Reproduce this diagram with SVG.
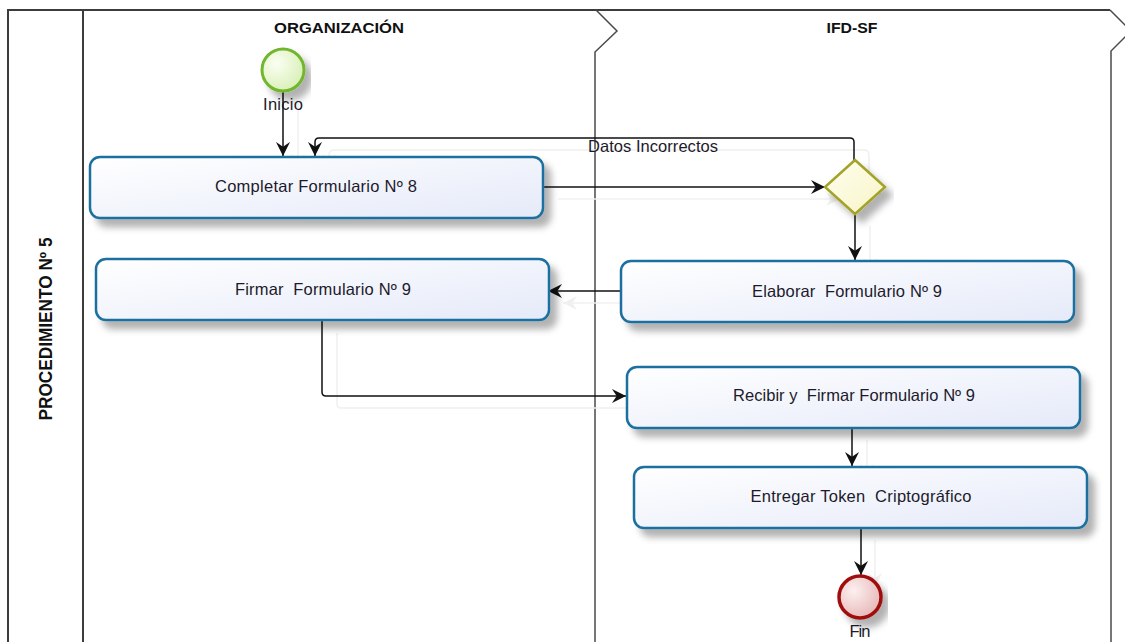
<svg xmlns="http://www.w3.org/2000/svg" width="1125" height="642" viewBox="0 0 1125 642">
  <style>
    .pool { fill: none; stroke: #3c3c3c; stroke-width: 2; }
    .lane { fill: none; stroke: #4a4a4a; stroke-width: 1.5; }
    .hdr { font-family: "Liberation Sans", Arial, sans-serif; font-weight: bold; font-size: 15px; fill: #111; text-anchor: middle; }
    .lbl { font-family: "Liberation Sans", Arial, sans-serif; font-size: 16.5px; fill: #1d1a2c; text-anchor: middle; white-space: pre; }
    .task { fill: url(#taskFill); stroke: #1f6f9f; stroke-width: 2.5; filter: url(#shadow); }
    .flow { fill: none; stroke: #111; stroke-width: 1.5; marker-end: url(#arrow); }
    .ghost { fill: none; stroke: #f0f0f0; stroke-width: 1.5; marker-end: url(#ghostArrow); }
  </style>
  <defs>
    <linearGradient id="taskFill" x1="0" y1="0" x2="1" y2="1">
      <stop offset="0" stop-color="#ffffff"/>
      <stop offset="1" stop-color="#e5eaf9"/>
    </linearGradient>
    <radialGradient id="startFill" cx="0.35" cy="0.35" r="0.75">
      <stop offset="0" stop-color="#fbfef3"/>
      <stop offset="1" stop-color="#d6efb2"/>
    </radialGradient>
    <radialGradient id="endFill" cx="0.35" cy="0.35" r="0.75">
      <stop offset="0" stop-color="#fdf0f0"/>
      <stop offset="1" stop-color="#e6b4b4"/>
    </radialGradient>
    <linearGradient id="gateFill" x1="0" y1="0" x2="1" y2="1">
      <stop offset="0" stop-color="#fffff0"/>
      <stop offset="1" stop-color="#f7f4c6"/>
    </linearGradient>
    <filter id="shadow" x="-10%" y="-20%" width="125%" height="160%">
      <feDropShadow dx="7" dy="8" stdDeviation="3.5" flood-color="#000" flood-opacity="0.3"/>
    </filter>
    <marker id="arrow" viewBox="0 0 12 12" refX="12" refY="6" markerWidth="14" markerHeight="14" markerUnits="userSpaceOnUse" orient="auto">
      <path d="M0,0 L12,6 L0,12 L4,6 z" fill="#111"/>
    </marker>
    <marker id="ghostArrow" viewBox="0 0 12 12" refX="12" refY="6" markerWidth="14" markerHeight="14" markerUnits="userSpaceOnUse" orient="auto">
      <path d="M0,0 L12,6 L0,12 L4,6 z" fill="#f0f0f0"/>
    </marker>
  </defs>

  <rect width="1125" height="642" fill="#ffffff"/>

  <!-- Pool and lanes -->
  <g id="pool">
    <path class="pool" d="M8,642 V10 H1110"/>
    <path class="pool" d="M83,10 V642"/>
    <path class="lane" d="M596,10 L617,31 L595,52 V642"/>
    <path class="lane" d="M1110,10 L1131,31 L1111,51 V642"/>
    <text class="hdr" x="339" y="33" textLength="130" lengthAdjust="spacingAndGlyphs">ORGANIZACIÓN</text>
    <text class="hdr" x="852" y="33" textLength="51" lengthAdjust="spacingAndGlyphs">IFD-SF</text>
    <text class="hdr" transform="translate(52,329) rotate(-90)" x="0" y="0" style="font-size:18px" textLength="183" lengthAdjust="spacingAndGlyphs">PROCEDIMIENTO Nº 5</text>
  </g>

  <!-- Faint connector shadows -->
  <g id="connector-shadows">
    <path class="ghost" d="M298,100 V168"/>
    <path class="ghost" d="M869,172 V155 Q869,150 864,150 H334 Q329,150 329,155 V168"/>
    <path class="ghost" d="M558,199 H840"/>
    <path class="ghost" d="M870,226 V272"/>
    <path class="ghost" d="M636,303 H563"/>
    <path class="ghost" d="M337,333 V404 Q337,408 341,408 H641"/>
    <path class="ghost" d="M867,440 V478"/>
    <path class="ghost" d="M875,540 V587"/>
  </g>

  <!-- Sequence flows -->
  <g id="connectors">
    <path class="flow" d="M283,91 V156"/>
    <path class="flow" d="M854,160 V142 Q854,138 850,138 H319 Q315,138 315,142 V156"/>
    <path class="flow" d="M543,187 H825"/>
    <path class="flow" d="M855,214 V260"/>
    <path class="flow" d="M621,291 H548"/>
    <path class="flow" d="M322,321 V392 Q322,396 326,396 H626"/>
    <path class="flow" d="M852,429 V466"/>
    <path class="flow" d="M861,529 V575"/>
    <text class="lbl" x="653" y="152" textLength="130">Datos Incorrectos</text>
  </g>

  <!-- Events -->
  <g id="inicio">
    <circle cx="283" cy="70" r="21" fill="url(#startFill)" stroke="#72b52f" stroke-width="3" filter="url(#shadow)"/>
    <text class="lbl" x="283" y="110" textLength="40">Inicio</text>
  </g>
  <g id="fin">
    <circle cx="860" cy="597" r="21" fill="url(#endFill)" stroke="#a01010" stroke-width="3.5" filter="url(#shadow)"/>
    <text class="lbl" x="860" y="637" textLength="21">Fin</text>
  </g>

  <!-- Gateway -->
  <g id="gateway">
    <path d="M855,160 L885,187 L855,214 L825,187 z" fill="url(#gateFill)" stroke="#a3a32a" stroke-width="2.5" stroke-linejoin="miter" filter="url(#shadow)"/>
  </g>

  <!-- Tasks -->
  <g id="completar">
    <rect class="task" x="90" y="157" width="453" height="61" rx="10"/>
    <text class="lbl" x="316" y="192" textLength="202">Completar Formulario Nº 8</text>
  </g>
  <g id="firmar">
    <rect class="task" x="96" y="259" width="453" height="61" rx="10"/>
    <text class="lbl" x="323" y="295" textLength="176">Firmar  Formulario Nº 9</text>
  </g>
  <g id="elaborar">
    <rect class="task" x="621" y="261" width="453" height="61" rx="10"/>
    <text class="lbl" x="847" y="297" textLength="190">Elaborar  Formulario Nº 9</text>
  </g>
  <g id="recibir">
    <rect class="task" x="627" y="367" width="453" height="61" rx="10"/>
    <text class="lbl" x="854" y="401" textLength="242">Recibir y  Firmar Formulario Nº 9</text>
  </g>
  <g id="entregar">
    <rect class="task" x="634" y="467" width="453" height="61" rx="10"/>
    <text class="lbl" x="861" y="502" textLength="221">Entregar Token  Criptográfico</text>
  </g>
</svg>
